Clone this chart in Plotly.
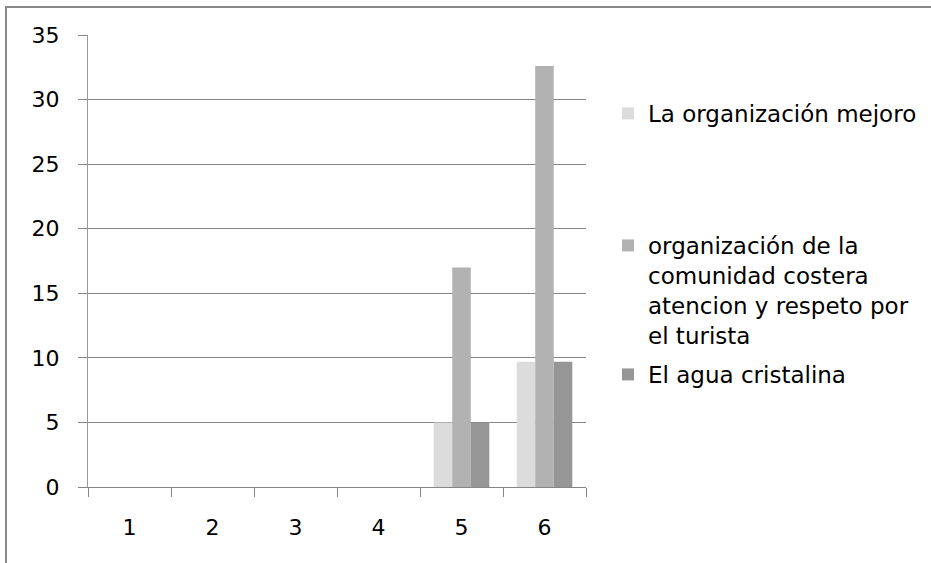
import plotly.graph_objects as go

# Survey responses per rating level
categories = ["1", "2", "3", "4", "5", "6"]
series_names = [
    "La organización mejoro",
    "organización de la<br>comunidad costera<br>atencion y respeto por<br>el turista",
    "El agua cristalina",
]
organizacion_mejoro = [0, 0, 0, 0, 5, 9.7]
comunidad_costera = [0, 0, 0, 0, 17, 32.6]
agua_cristalina = [0, 0, 0, 0, 5, 9.7]
y_ticks = [0, 5, 10, 15, 20, 25, 30, 35]

colors = ["#dcdcdc", "#b2b2b2", "#969696"]
values = [organizacion_mejoro, comunidad_costera, agua_cristalina]
legend_ids = ["legend", "legend2", "legend3"]

fig = go.Figure()
for name, vals, col, lg in zip(series_names, values, colors, legend_ids):
    fig.add_trace(go.Bar(
        x=categories, y=vals, name=name,
        marker=dict(color=col, line=dict(width=0)),
        legend=lg, showlegend=True,
    ))

font = "DejaVu Sans"
legend_common = dict(
    xanchor="left", yanchor="top", x=1.0442,
    bgcolor="rgba(0,0,0,0)", borderwidth=0,
    font=dict(family=font, size=23, color="#000000"),
    valign="top", itemclick=False,
)

fig.update_layout(
    width=931, height=563,
    margin=dict(l=88, r=345, t=35, b=76, autoexpand=False),
    paper_bgcolor="#ffffff", plot_bgcolor="#ffffff",
    barmode="group", bargap=0.33, bargroupgap=0,
    showlegend=True,
    font=dict(family=font, size=22, color="#000000"),
    legend=dict(y=0.8740, **legend_common),
    legend2=dict(y=0.5819, **legend_common),
    legend3=dict(y=0.2965, **legend_common),
    xaxis=dict(
        type="category", tickson="boundaries",
        ticks="outside", ticklen=9, tickcolor="#868686", tickwidth=1,
        showline=True, linecolor="#868686", linewidth=1,
        showgrid=False, ticklabelstandoff=21,
        tickfont=dict(family=font, size=22, color="#000000"),
    ),
    yaxis=dict(
        range=[0, 35], tickvals=y_ticks,
        ticks="outside", ticklen=9, tickcolor="#868686", tickwidth=1,
        showgrid=True, gridcolor="#868686", gridwidth=1,
        zeroline=False,
        showline=True, linecolor="#9a9a9a", linewidth=1,
        ticklabelstandoff=14,
        tickfont=dict(family=font, size=22, color="#000000"),
    ),
)

# Outer chart frame
fig.add_shape(
    type="rect", xref="paper", yref="paper",
    x0=-0.1647, x1=1.9, y0=-0.4, y1=1.062,
    line=dict(color="#888888", width=2), fillcolor="rgba(0,0,0,0)",
    layer="below",
)

fig.write_html("out.html")
